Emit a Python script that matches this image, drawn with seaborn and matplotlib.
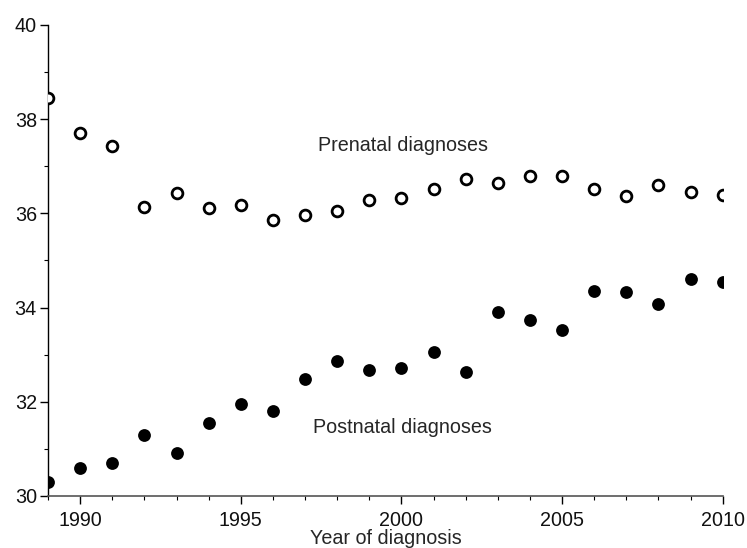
import matplotlib
matplotlib.use("Agg")
import matplotlib.pyplot as plt
import pandas as pd
import seaborn as sns
from matplotlib.ticker import MultipleLocator

# ── Data ──────────────────────────────────────────────────────────────────────
years = list(range(1989, 2011))
prenatal = [38.44, 37.70, 37.44, 36.14, 36.44, 36.11, 36.18, 35.86, 35.97, 36.05,
            36.28, 36.32, 36.51, 36.72, 36.64, 36.80, 36.80, 36.51, 36.37, 36.60,
            36.45, 36.39]
postnatal = [30.30, 30.59, 30.71, 31.30, 30.91, 31.56, 31.95, 31.81, 32.48, 32.87,
             32.68, 32.71, 33.06, 32.64, 33.91, 33.74, 33.52, 34.36, 34.34, 34.07,
             34.60, 34.54]

df = pd.DataFrame({"year": years, "prenatal": prenatal, "postnatal": postnatal})

sns.set_style("ticks")
plt.rcParams["font.family"] = ["Liberation Sans", "DejaVu Sans"]

fig = plt.figure(figsize=(7.47, 5.48), dpi=100)
ax = fig.add_axes([0.0643, 0.0949, 0.9032, 0.8595])

sns.scatterplot(data=df, x="year", y="prenatal", ax=ax, marker="o", s=60,
                facecolor="white", edgecolor="black", linewidth=2.0, zorder=3)
sns.scatterplot(data=df, x="year", y="postnatal", ax=ax, marker="o", s=85,
                color="black", edgecolor="black", linewidth=0, zorder=3)

ax.text(1997.4, 37.45, "Prenatal diagnoses", fontsize=14.2, va="center", ha="left")
ax.text(1997.25, 31.46, "Postnatal diagnoses", fontsize=14.2, va="center", ha="left")

ax.set_xlim(1989, 2010)
ax.set_ylim(30, 40)
ax.xaxis.set_major_locator(MultipleLocator(5))
ax.xaxis.set_minor_locator(MultipleLocator(1))
ax.yaxis.set_major_locator(MultipleLocator(2))
ax.yaxis.set_minor_locator(MultipleLocator(1))

ax.tick_params(axis="both", which="major", labelsize=14.2, length=6, width=1,
               color="black", labelcolor="#111111")
ax.tick_params(axis="both", which="minor", length=3, width=0.8, color="black")
ax.tick_params(axis="x", pad=5)
ax.tick_params(axis="y", pad=2)

ax.set_xlabel("Year of diagnosis", fontsize=14.2, labelpad=-1)
ax.set_ylabel("")

for side in ["top", "right"]:
    ax.spines[side].set_visible(False)
ax.spines["left"].set_color("black")
ax.spines["left"].set_linewidth(1)
ax.spines["bottom"].set_color("#555555")
ax.spines["bottom"].set_linewidth(1.2)

fig.savefig("out.png", dpi=100)
plt.close(fig)
